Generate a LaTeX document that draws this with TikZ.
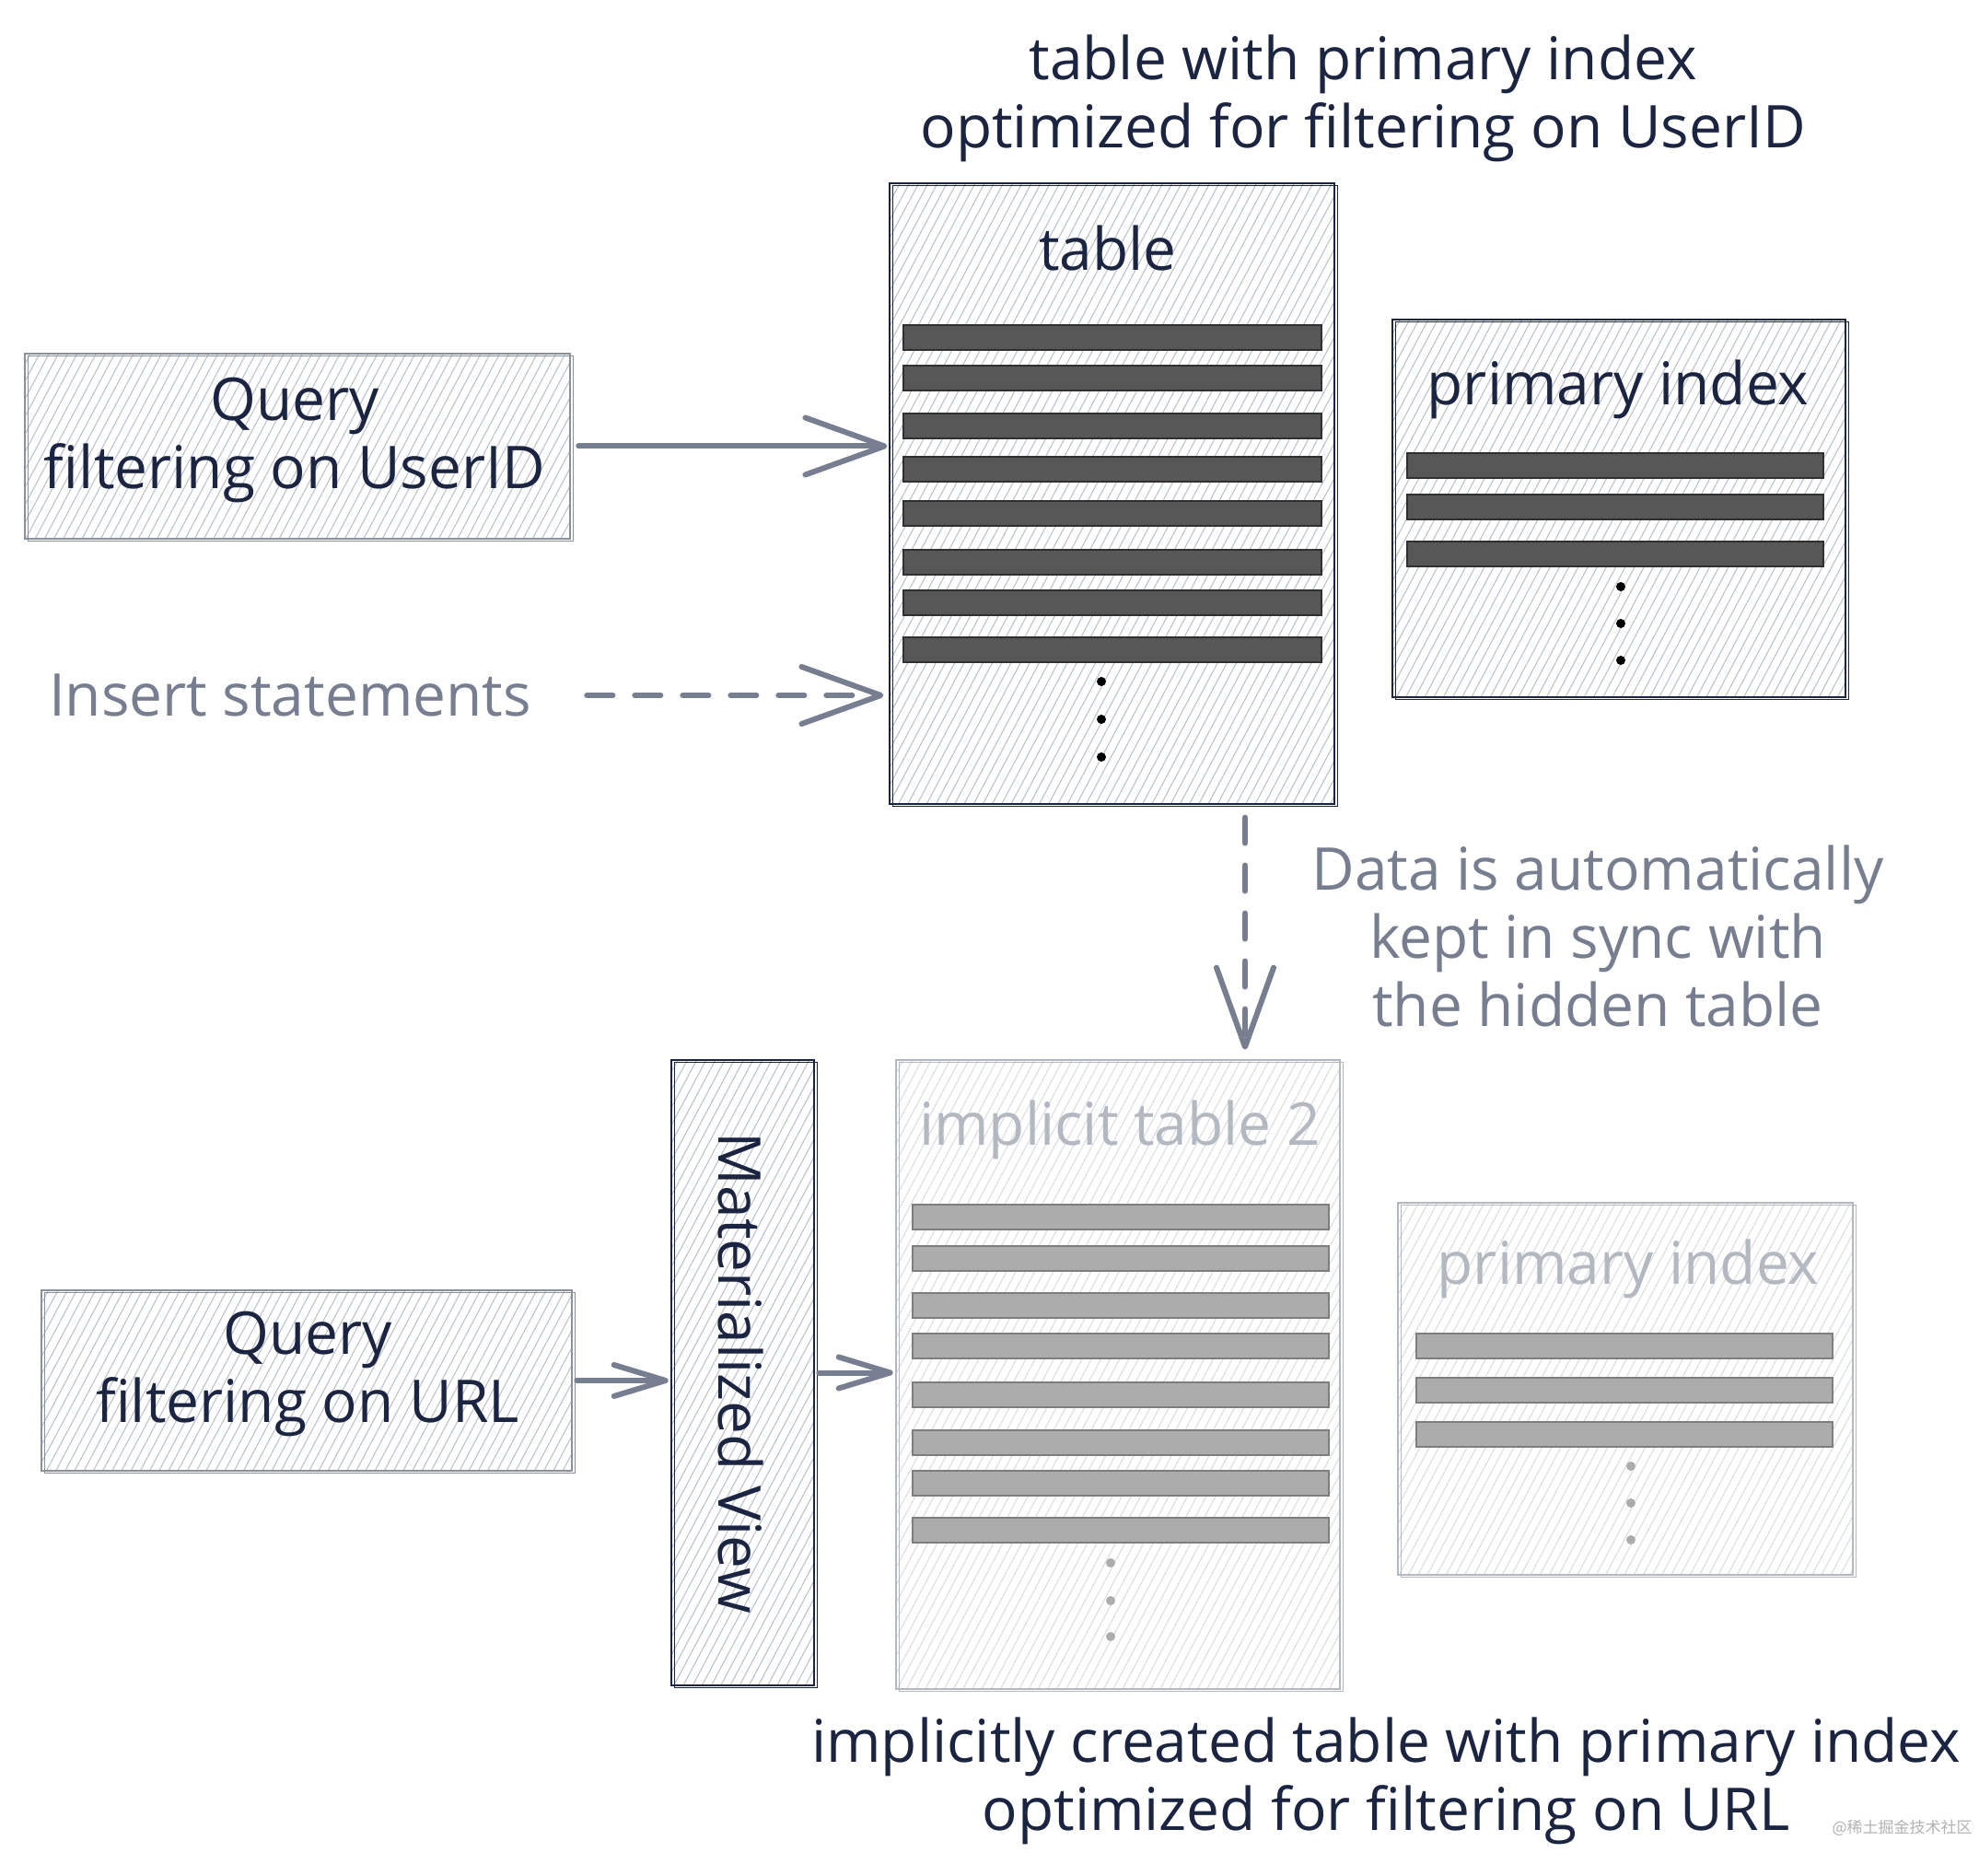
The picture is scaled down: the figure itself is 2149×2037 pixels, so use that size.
\documentclass[tikz,border=0pt]{standalone}
\usepackage{fontspec}
\setmainfont{Open Sans}
\newfontfamily\cjkfont{Noto Sans CJK SC}
\usetikzlibrary{arrows.meta,patterns.meta}
\definecolor{navy}{HTML}{1B2440}
\definecolor{slate}{HTML}{777E90}
\definecolor{qgray}{HTML}{8A909C}
\definecolor{lgray}{HTML}{B4B8C1}
\definecolor{hatchA}{HTML}{BCC3CE}
\definecolor{hatchB}{HTML}{DADEE4}
\definecolor{rowdk}{HTML}{575757}
\definecolor{rowdkb}{HTML}{303030}
\definecolor{rowlt}{HTML}{ACACAC}
\definecolor{rowltb}{HTML}{7E7E7E}
\begin{document}
\begin{tikzpicture}[x=0.5pt,y=-0.5pt,
  txt/.style={font=\fontsize{32pt}{37pt}\selectfont, text=navy, align=center, inner sep=0pt},
  gtxt/.style={txt, text=slate},
  ltxt/.style={txt, text=lgray},
  hachA/.style={pattern={Lines[angle=62,distance=4.5pt,line width=0.55pt]}, pattern color=hatchA},
  hachB/.style={pattern={Lines[angle=62,distance=4.5pt,line width=0.55pt]}, pattern color=hatchB},
  sbox/.style={draw=#1, line width=1.3pt, rectangle, inner sep=0pt,
    postaction={draw=#1, line width=0.7pt, transform canvas={shift={(1.6pt,-1.3pt)}}}},
  rowD/.style={draw=rowdkb, fill=rowdk, line width=1pt, rectangle, inner sep=0pt, minimum height=13.5pt},
  rowL/.style={draw=rowltb, fill=rowlt, line width=1pt, rectangle, inner sep=0pt, minimum height=13.5pt},
  dotD/.style={circle, fill=black, inner sep=0pt, minimum size=5pt},
  dotL/.style={circle, fill=rowlt, inner sep=0pt, minimum size=5pt},
  arr/.style={draw=slate, line width=3pt, line cap=round,
    -{Straight Barb[length=43pt, width=31pt, line width=3pt, round]}},
  arrs/.style={draw=slate, line width=3pt, line cap=round,
    -{Straight Barb[length=28pt, width=17pt, line width=3pt, round]}},
  darr/.style={arr, dash pattern=on 14pt off 12pt}
]
\fill[white] (0,0) rectangle (2149,2037);
\useasboundingbox (0,0) rectangle (2149,2037);

% ---- top title
\node[txt] (title1) at (1480,107) {table with primary index\\optimized for filtering on UserID};

% ---- table
\node[sbox=navy, hachA, minimum width=241.5pt, minimum height=337pt] (tbl) at (1207.5,536) {};
\node[txt] (tbllbl) at (1203,270) {table};
\foreach \i/\y in {1/367,2/411,3/463,4/510,5/558,6/611,7/655,8/706}{
  \node[rowD, minimum width=227pt] (tr\i) at (1208,\y) {};
}
\node[dotD] (td1) at (1196,740) {};
\node[dotD] (td2) at (1196,781) {};
\node[dotD] (td3) at (1196,822) {};

% ---- primary index 1
\node[sbox=navy, hachA, minimum width=246pt, minimum height=205pt] (pi1) at (1758,552) {};
\node[txt] (pi1lbl) at (1757,423) {primary index};
\foreach \i/\y in {1/506,2/551,3/602}{
  \node[rowD, minimum width=226pt] (pr\i) at (1754,\y) {};
}
\node[dotD] (pd1) at (1760,637) {};
\node[dotD] (pd2) at (1760,677) {};
\node[dotD] (pd3) at (1760,717) {};

% ---- query 1
\node[sbox=qgray, hachA, minimum width=296pt, minimum height=100.5pt] (q1) at (323,484.5) {};
\node[txt] (q1lbl) at (320,478) {Query\\filtering on UserID};

% ---- insert statements
\node[gtxt] (ins) at (315,755) {Insert statements};

% ---- sync text
\node[gtxt] (sync) at (1735,1017) {Data is automatically\\kept in sync with\\the hidden table};

% ---- implicit table 2
\node[sbox=lgray, hachB, minimum width=241pt, minimum height=341.5pt] (impl) at (1214,1492.5) {};
\node[ltxt] (impllbl) at (1216,1227) {implicit table 2};
\foreach \i/\y in {1/1321,2/1366,3/1417,4/1461,5/1514,6/1566,7/1610,8/1661}{
  \node[rowL, minimum width=226pt] (ir\i) at (1217,\y) {};
}
\node[dotL] (id1) at (1206,1697) {};
\node[dotL] (id2) at (1206,1738) {};
\node[dotL] (id3) at (1206,1777) {};

% ---- primary index 2
\node[sbox=lgray, hachB, minimum width=247pt, minimum height=202pt] (pi2) at (1765,1508) {};
\node[ltxt] (pi2lbl) at (1768,1378) {primary index};
\foreach \i/\y in {1/1461,2/1509,3/1557}{
  \node[rowL, minimum width=226pt] (jr\i) at (1764,\y) {};
}
\node[dotL] (jd1) at (1771,1592) {};
\node[dotL] (jd2) at (1771,1632) {};
\node[dotL] (jd3) at (1771,1672) {};

% ---- materialized view
\node[sbox=navy, hachA, minimum width=77.5pt, minimum height=339.5pt] (mv) at (806.5,1490.5) {};
\node[txt, rotate=-90] (mvlbl) at (804,1491) {Materialized View};

% ---- query 2
\node[sbox=qgray, hachA, minimum width=288pt, minimum height=98pt] (q2) at (333,1499) {};
\node[txt] (q2lbl) at (334,1492) {Query\\filtering on URL};

% ---- bottom title
\node[txt] (title2) at (1505,1934) {implicitly created table with primary index\\optimized for filtering on URL};

% ---- watermark
\node[font=\cjkfont\fontsize{8.5pt}{10pt}\selectfont, text=black!30, anchor=east, inner sep=0pt] (wm) at (2142,1985) {@稀土掘金技术社区};

% ---- connectors
\coordinate (sx) at (1352,0);
\draw[arr] ([xshift=4pt]q1.east) -- ([xshift=-1pt]q1.east -| tbl.west);
\draw[darr] ([xshift=30pt]ins.east) -- ([xshift=-3pt]ins.east -| tbl.west);
\draw[darr] ([yshift=-7pt]tbl.south -| sx) -- ([yshift=5pt]impl.north -| sx);
\draw[arrs] ([xshift=2pt]q2.east) -- ([xshift=-1pt]q2.east -| mv.west);
\draw[arrs] ([xshift=2pt]mv.east) -- ([xshift=-1pt]mv.east -| impl.west);
\end{tikzpicture}
\end{document}
